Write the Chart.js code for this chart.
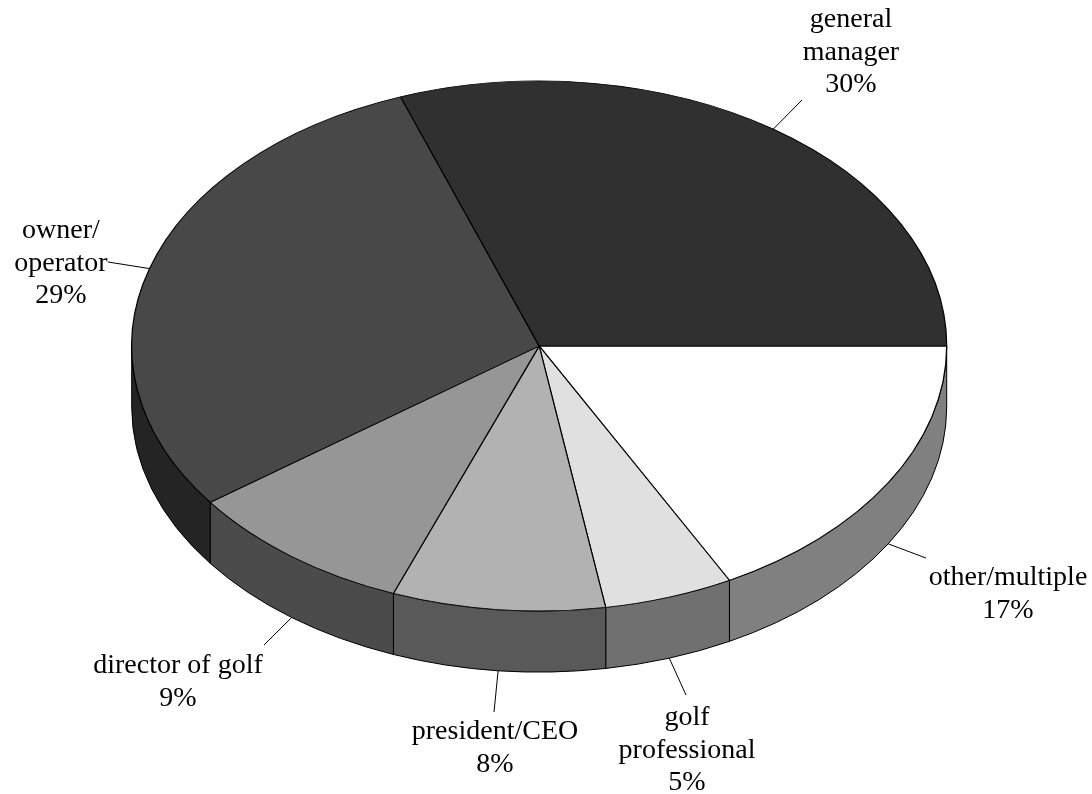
<!DOCTYPE html>
<html lang="en">
<head>
  <meta charset="UTF-8">
  <title>Role of respondents</title>
  <script src="https://cdn.jsdelivr.net/npm/chart.js"></script>
  <style>
    body {
      margin: 0;
      background: #fff;
    }
    .chart-container {
      position: relative;
      width: 1092px;
      height: 794px;
    }
  </style>
</head>
<body>
  <div class="chart-container">
    <canvas id="pieChart"></canvas>
  </div>

  <script>
    // data, clockwise from 3 o'clock (percent)
    const categories = ['other/multiple', 'golf\nprofessional', 'president/CEO', 'director of golf', 'owner/\noperator', 'general\nmanager'];
    const shares = [17.2, 5.1, 8.4, 9.1, 29.4, 30.4];
    const topColors = ['#ffffff', '#e0e0e0', '#b2b2b2', '#969696', '#484848', '#303030'];

    // projected disc: ellipse centre, radii and side depth
    const CX = 539.2, CY = 346, RX = 407.5, RY = 265, DEPTH = 61;

    // where each label sits: leader end, text centre x, first baseline
    const labelLayout = [
      { lx: 926, ly: 558, tx: 1008, ty: 585 },
      { lx: 686, ly: 695, tx: 687, ty: 725 },
      { lx: 494, ly: 712, tx: 495, ty: 739 },
      { lx: 264, ly: 645, tx: 178, ty: 673 },
      { lx: 108, ly: 262, tx: 61, ty: 238 },
      { lx: 802, ly: 100, tx: 851, ty: 27 }
    ];
    const LINE_HEIGHT = 32.5;
    const FONT = '28px "Liberation Serif", "Times New Roman", serif';

    function darker(hex) {
      const v = parseInt(hex.slice(1), 16);
      const r = Math.round(((v >> 16) & 255) * 0.5);
      const g = Math.round(((v >> 8) & 255) * 0.5);
      const b = Math.round((v & 255) * 0.5);
      return `rgb(${r},${g},${b})`;
    }

    // side wall under the front half, then squash the pie into the ellipse
    const tiltPlugin = {
      id: 'tilt',
      beforeDatasetsDraw(chart) {
        const ctx = chart.ctx;
        const arcs = chart.getDatasetMeta(0).data;
        ctx.save();
        ctx.lineWidth = 1;
        ctx.strokeStyle = '#000';
        arcs.forEach((arc, i) => {
          const a = Math.max(arc.startAngle, 0);
          const b = Math.min(arc.endAngle, Math.PI);
          if (a >= b) return;
          ctx.beginPath();
          ctx.ellipse(CX, CY, RX, RY, 0, a, b);
          ctx.lineTo(CX + RX * Math.cos(b), CY + RY * Math.sin(b) + DEPTH);
          ctx.ellipse(CX, CY + DEPTH, RX, RY, 0, b, a, true);
          ctx.closePath();
          ctx.fillStyle = darker(topColors[i]);
          ctx.fill();
          ctx.stroke();
        });
        ctx.restore();

        const first = arcs[0];
        ctx.save();
        ctx.translate(CX, CY);
        ctx.scale(RX / first.outerRadius, RY / first.outerRadius);
        ctx.translate(-first.x, -first.y);
      },
      afterDatasetsDraw(chart) {
        chart.ctx.restore();
      },
      afterDraw(chart) {
        const ctx = chart.ctx;
        const arcs = chart.getDatasetMeta(0).data;
        ctx.save();
        ctx.font = FONT;
        ctx.fillStyle = '#000';
        ctx.strokeStyle = '#000';
        ctx.lineWidth = 1;
        ctx.textAlign = 'center';
        ctx.textBaseline = 'alphabetic';
        arcs.forEach((arc, i) => {
          const m = (arc.startAngle + arc.endAngle) / 2;
          let sx = CX + RX * Math.cos(m);
          let sy = CY + RY * Math.sin(m);
          if (Math.sin(m) > 0) sy += DEPTH;
          const L = labelLayout[i];
          ctx.beginPath();
          ctx.moveTo(sx, sy);
          ctx.lineTo(L.lx, L.ly);
          ctx.stroke();
          const lines = categories[i].split('\n');
          lines.push(Math.round(shares[i]) + '%');
          lines.forEach((t, k) => ctx.fillText(t, L.tx, L.ty + k * LINE_HEIGHT));
        });
        ctx.restore();
      }
    };

    const ctx = document.getElementById('pieChart').getContext('2d');
    new Chart(ctx, {
      type: 'pie',
      data: {
        labels: categories,
        datasets: [{
          data: shares,
          backgroundColor: topColors,
          borderColor: '#000',
          borderWidth: 1.2,
          clip: false
        }]
      },
      options: {
        responsive: true,
        maintainAspectRatio: false,
        animation: false,
        events: [],
        rotation: 90,
        layout: { padding: 0 },
        plugins: {
          legend: { display: false },
          tooltip: { enabled: false }
        }
      },
      plugins: [tiltPlugin]
    });
  </script>
</body>
</html>
